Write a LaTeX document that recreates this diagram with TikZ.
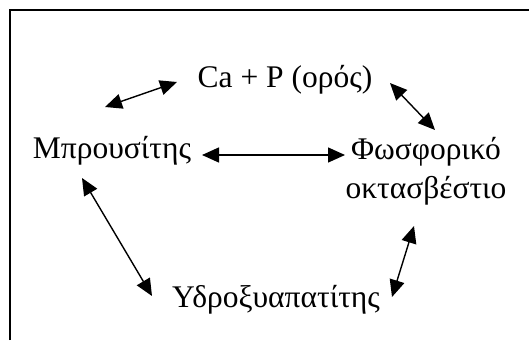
\documentclass[tikz,border=0pt]{standalone}
\usepackage{fontspec}
\setmainfont{Liberation Serif}
\usetikzlibrary{arrows.meta}

\begin{document}
\begin{tikzpicture}[x=1pt,y=-1pt,
  lbl/.style={inner sep=0pt,font=\fontsize{31.5}{39}\selectfont},
  dbl/.style={line width=1.4pt,{Triangle[length=17pt,width=15pt]}-{Triangle[length=17pt,width=15pt]}}]
  \useasboundingbox (0,0) rectangle (529,340);
  \draw[line width=2pt] (10,340) -- (10,10) -- (529,10);
  \node[lbl,anchor=base] (ca) at (285,87) {Ca + P (ορός)};
  \node[lbl,anchor=base] (mpr) at (112,158) {Μπρουσίτης};
  \node[lbl,align=center,anchor=north] (fosf) at (426,137) {Φωσφορικό\\οκτασβέστιο};
  \node[lbl,anchor=base] (ydr) at (276,307) {Υδροξυαπατίτης};
  \coordinate (ca-w) at (177,82); \coordinate (mpr-n) at (105,107);
  \coordinate (ca-e) at (390,83); \coordinate (fosf-n) at (435,130);
  \coordinate (mpr-e) at (202,155); \coordinate (fosf-w) at (345,155);
  \coordinate (mpr-s) at (82,178); \coordinate (ydr-w) at (152,296);
  \coordinate (fosf-s) at (414,226); \coordinate (ydr-e) at (392,297);
  \draw[dbl] (mpr-n) -- (ca-w);
  \draw[dbl] (ca-e) -- (fosf-n);
  \draw[dbl] (mpr-e) -- (fosf-w);
  \draw[dbl] (mpr-s) -- (ydr-w);
  \draw[dbl] (fosf-s) -- (ydr-e);
\end{tikzpicture}
\end{document}
